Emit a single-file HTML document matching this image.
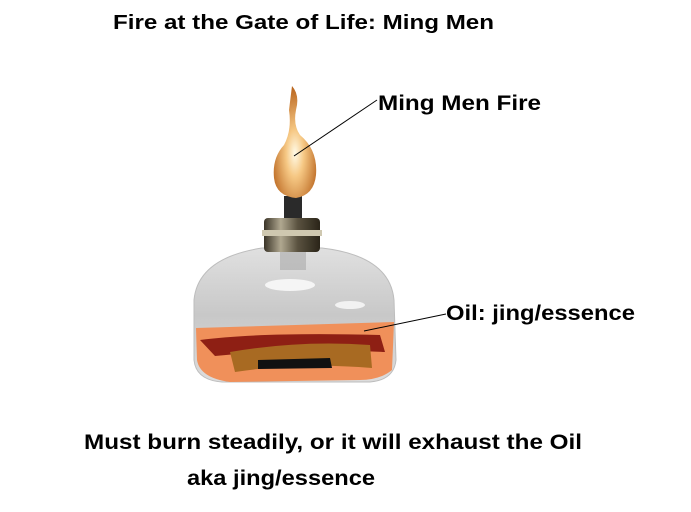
<!DOCTYPE html>
<html><head><style>
body{margin:0;background:#fff;width:691px;height:512px;overflow:hidden}
svg{display:block}
text{font-family:"Liberation Sans",sans-serif;font-weight:bold;fill:#000}
</style></head><body>
<svg width="691" height="512" viewBox="0 0 691 512">
<defs>
<radialGradient id="fl" cx="0.5" cy="0.6" r="0.6">
<stop offset="0" stop-color="#fffbe8"/><stop offset="0.35" stop-color="#f6c884"/><stop offset="1" stop-color="#b8631c"/>
</radialGradient>
<linearGradient id="gl" x1="0" y1="0" x2="0" y2="1">
<stop offset="0" stop-color="#e0e0e0"/><stop offset="0.5" stop-color="#c8c8c8"/><stop offset="1" stop-color="#dcdcdc"/>
</linearGradient>
<linearGradient id="me" x1="0" y1="0" x2="1" y2="0">
<stop offset="0" stop-color="#3a3428"/><stop offset="0.3" stop-color="#b0a890"/><stop offset="0.6" stop-color="#5a5240"/><stop offset="1" stop-color="#2a2418"/>
</linearGradient>
</defs>
<text x="113" y="29" font-size="20" textLength="381" lengthAdjust="spacingAndGlyphs">Fire at the Gate of Life: Ming Men</text>
<!-- glass -->
<path d="M194,300 Q198,258 262,248 L322,248 Q390,256 394,300 L396,360 Q394,380 370,382 L222,382 Q196,380 194,360 Z" fill="url(#gl)" stroke="#bdbdbd"/>
<ellipse cx="290" cy="285" rx="25" ry="6" fill="#f5f5f5"/>
<ellipse cx="350" cy="305" rx="15" ry="4" fill="#f2f2f2"/>
<rect x="280" y="248" width="26" height="22" fill="#aaa" opacity="0.6"/>
<!-- oil -->
<path d="M196,328 L394,322 L392,370 Q380,380 360,380 L230,382 Q200,378 197,360 Z" fill="#f0905a"/>
<path d="M200,340 Q260,332 380,335 L385,352 Q300,348 215,356 Z" fill="#8e1f14"/>
<path d="M230,352 Q300,340 370,345 L372,368 Q300,362 235,372 Z" fill="#a86a22"/>
<path d="M258,360 L330,358 L332,368 L258,369 Z" fill="#111"/>
<!-- collar -->
<rect x="264" y="218" width="56" height="34" rx="4" fill="url(#me)"/>
<rect x="262" y="230" width="60" height="6" fill="#cfc8b0"/>
<!-- wick -->
<rect x="284" y="196" width="18" height="22" fill="#2a2a2a"/>
<!-- flame -->
<path d="M292,86 Q300,95 296,110 Q293,125 300,135 Q318,150 316,175 Q314,195 296,198 Q276,196 274,178 Q272,158 284,145 Q292,130 289,110 Z" fill="url(#fl)"/>
<line x1="294" y1="156" x2="377" y2="100" stroke="#000" stroke-width="1"/>
<line x1="364" y1="331" x2="446" y2="314" stroke="#000" stroke-width="1"/>
<text x="378" y="110" font-size="21" textLength="163" lengthAdjust="spacingAndGlyphs">Ming Men Fire</text>
<text x="446" y="320" font-size="21" textLength="189" lengthAdjust="spacingAndGlyphs">Oil: jing/essence</text>
<text x="84" y="449" font-size="21" textLength="498" lengthAdjust="spacingAndGlyphs">Must burn steadily, or it will exhaust the Oil</text>
<text x="187" y="485" font-size="21" textLength="188" lengthAdjust="spacingAndGlyphs">aka jing/essence</text>
</svg>
</body></html>
